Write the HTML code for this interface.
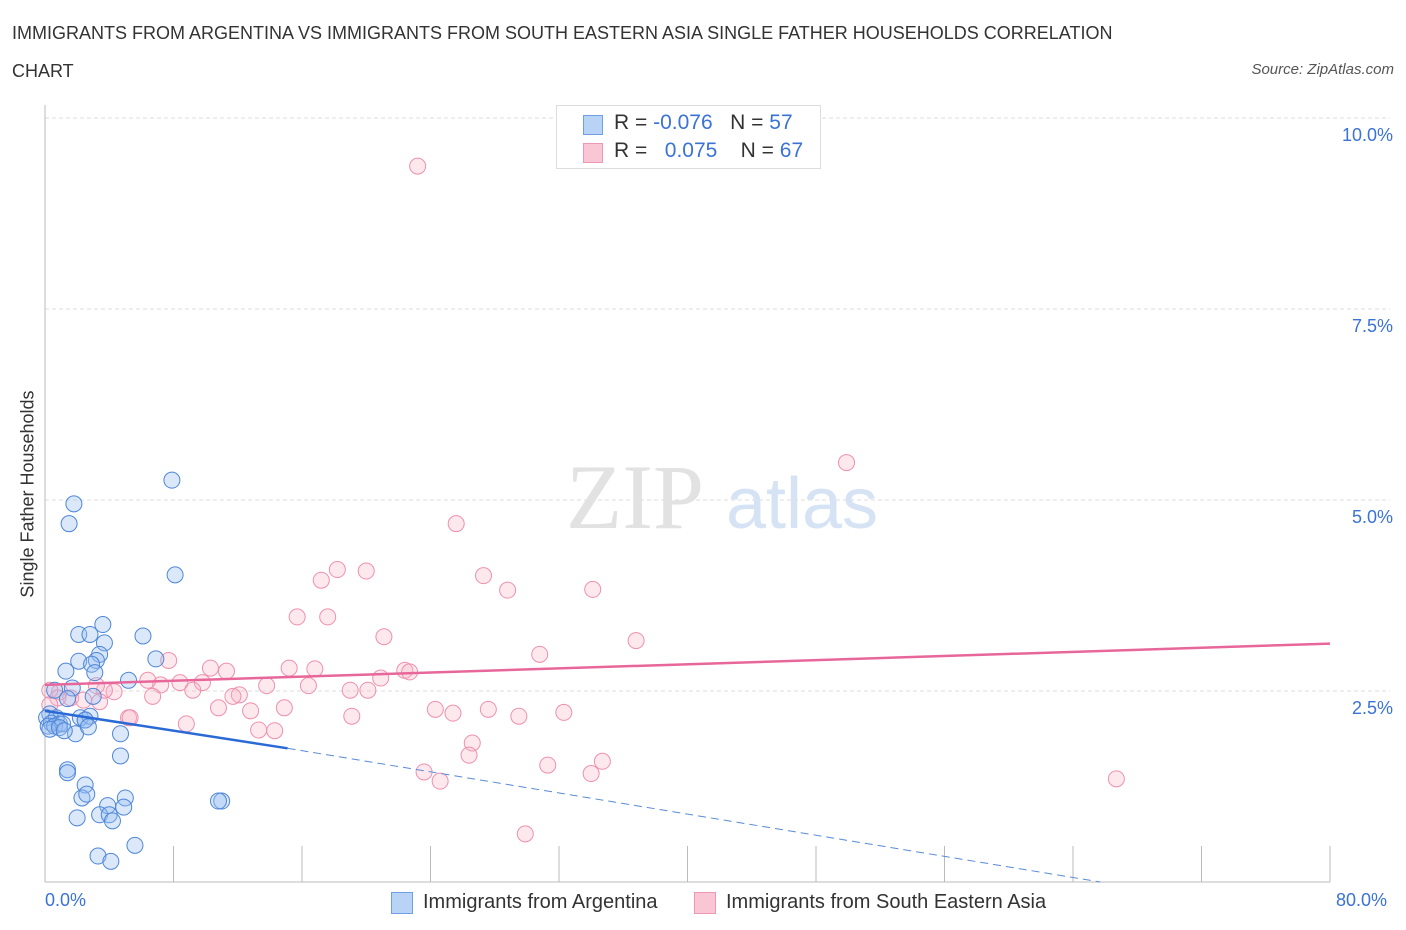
<!DOCTYPE html>
<html><head><meta charset="utf-8"><style>
body{margin:0;background:#fff;font-family:"Liberation Sans",sans-serif;}
#wrap{position:relative;width:1406px;height:930px;overflow:hidden;}
.t{position:absolute;white-space:nowrap;}
</style></head><body>
<div id="wrap">
<div class="t" style="left:12px;top:14px;font-size:18px;color:#333;line-height:38px;">IMMIGRANTS FROM ARGENTINA VS IMMIGRANTS FROM SOUTH EASTERN ASIA SINGLE FATHER HOUSEHOLDS CORRELATION<br>CHART</div>
<div class="t" style="right:12px;top:61px;font-size:15px;color:#555;font-style:italic;">Source: ZipAtlas.com</div>
<svg id="svg" width="1406" height="930" style="position:absolute;left:0;top:0"></svg>
</div>
<script>
const yTicks=[2.5,5.0,7.5,10.0];
const yTickLabels=["2.5%","5.0%","7.5%","10.0%"];
const blueX=[7.9,1.8,1.5,8.1,2.1,2.8,3.6,6.1,3.7,3.4,2.1,3.2,2.9,6.9,1.3,3.1,5.2,1.7,0.6,3.0,1.4,0.3,0.1,0.7,0.4,0.9,0.2,0.6,1.1,2.5,2.2,2.8,2.5,1.9,2.7,0.3,4.7,0.9,4.7,1.4,1.4,2.5,2.3,2.6,11.0,10.8,5.0,4.9,3.9,3.4,4.0,4.2,2.0,5.6,3.3,4.1,1.2];
const blueY=[5.26,4.95,4.69,4.02,3.24,3.24,3.37,3.22,3.13,2.98,2.89,2.90,2.85,2.92,2.76,2.74,2.64,2.54,2.51,2.43,2.40,2.20,2.15,2.15,2.08,2.07,2.04,2.04,2.07,2.12,2.15,2.17,2.12,1.94,2.03,2.00,1.94,2.02,1.65,1.47,1.43,1.27,1.10,1.15,1.06,1.06,1.10,0.98,1.00,0.88,0.88,0.80,0.84,0.48,0.34,0.27,1.98];
const pinkX=[23.2,49.9,25.6,18.2,17.2,20.0,27.3,28.8,34.1,15.7,17.6,21.1,36.8,30.8,7.7,10.3,11.3,15.2,16.8,22.4,22.7,20.9,8.4,7.2,6.4,9.8,13.8,16.4,19.0,20.1,12.1,11.7,9.2,6.7,4.3,3.7,3.2,0.9,0.3,1.6,2.4,0.8,5.2,10.8,14.9,24.3,27.6,19.1,25.4,32.3,29.5,12.8,8.8,13.3,14.3,5.3,26.6,26.4,34.7,31.3,23.6,34.0,24.6,66.7,29.9,0.3,3.4];
const pinkY=[9.37,5.49,4.69,4.09,3.95,4.07,4.01,3.82,3.83,3.47,3.47,3.21,3.16,2.98,2.90,2.80,2.76,2.80,2.79,2.77,2.75,2.67,2.61,2.58,2.64,2.61,2.57,2.57,2.51,2.51,2.45,2.43,2.51,2.43,2.49,2.51,2.57,2.49,2.51,2.41,2.38,2.41,2.15,2.28,2.28,2.26,2.26,2.17,2.21,2.22,2.17,2.24,2.07,1.99,1.98,2.15,1.82,1.66,1.58,1.53,1.44,1.42,1.32,1.35,0.63,2.32,2.36];
const pinkTrend=[2.58,3.12];
const blueTrend=[2.24,1.75,0.0];
const blueTrendEndX=[15.1,65.7];

const X0=45,X1=1330,Y0=882;
const xs=v=>X0+(v/80)*(X1-X0);
const ys=v=>Y0-v*76.4;
const svg=document.getElementById('svg');const NS='http://www.w3.org/2000/svg';
function mk(t,a,name,p){const e=document.createElementNS(NS,t);for(const k in a)e.setAttribute(k,a[k]);


(p||svg).appendChild(e);return e;}
yTicks.forEach((v,i)=>{mk('line',{x1:X0,x2:1390,y1:ys(v),y2:ys(v),stroke:'#ddd','stroke-dasharray':'4,3'},'grid-line');
const t=mk('text',{x:1393,y:ys(v)+23,'text-anchor':'end','font-size':18,fill:'#3a72d6','font-family':'Liberation Sans'},'y-tick-label');t.textContent=yTickLabels[i];});
mk('line',{x1:X0,x2:X0,y1:105,y2:Y0,stroke:'#bbb'},'y-axis');
mk('line',{x1:X0,x2:X1,y1:Y0,y2:Y0,stroke:'#bbb'},'x-axis');
for(let i=1;i<=10;i++){mk('line',{x1:xs(i*8),x2:xs(i*8),y1:846,y2:Y0,stroke:'#bbb'},'x-tick');}
let w=mk('text',{x:635,y:528,'text-anchor':'middle','font-size':92,fill:'#e2e2e2','font-family':'Liberation Serif'},'watermark-zip');w.textContent='ZIP';
w=mk('text',{x:802,y:528,'text-anchor':'middle','font-size':72,fill:'#d6e3f5','font-family':'Liberation Sans'},'watermark-atlas');w.textContent='atlas';
pinkX.forEach((x,i)=>mk('circle',{cx:xs(x),cy:ys(pinkY[i]),r:8,fill:'rgba(248,180,200,0.3)',stroke:'#ef90ad','stroke-width':1},'pink-point'));
blueX.forEach((x,i)=>mk('circle',{cx:xs(x),cy:ys(blueY[i]),r:8,fill:'rgba(150,190,240,0.35)',stroke:'#4f86d8','stroke-width':1},'blue-point'));
mk('line',{x1:xs(0),y1:ys(pinkTrend[0]),x2:xs(80),y2:ys(pinkTrend[1]),stroke:'#e8679a','stroke-width':2.5},'pink-trend-line');
mk('line',{x1:xs(0),y1:ys(blueTrend[0]),x2:xs(blueTrendEndX[0]),y2:ys(blueTrend[1]),stroke:'#2a6ad6','stroke-width':2.5},'blue-trend-line');
mk('line',{x1:xs(blueTrendEndX[0]),y1:ys(blueTrend[1]),x2:xs(blueTrendEndX[1]),y2:ys(blueTrend[2]),stroke:'#5a8ad8','stroke-width':1,'stroke-dasharray':'8,5'},'blue-trend-extension');
</script>
<div class="t" style="left:28px;top:494px;font-size:18px;color:#333;transform:translate(-50%,-50%) rotate(-90deg);">Single Father Households</div>
<div class="t" style="left:45px;top:890px;font-size:18px;color:#3a72d6;">0.0%</div>
<div class="t" style="left:1336px;top:890px;font-size:18px;color:#3a72d6;">80.0%</div>
<div style="position:absolute;left:556px;top:105px;width:263px;height:62px;border:1px solid #ddd;background:#fff;font-size:21px;color:#333;">
<div style="position:absolute;left:26px;top:9px;width:18px;height:18px;background:#b8d3f6;border:1px solid #6fa0e6;"></div>
<div class="t" style="left:57px;top:5px;">R = <span style="color:#3a72d6">-0.076</span>&nbsp;&nbsp;&nbsp;N = <span style="color:#3a72d6">57</span></div>
<div style="position:absolute;left:26px;top:37px;width:18px;height:18px;background:#f9c6d5;border:1px solid #ec98b2;"></div>
<div class="t" style="left:57px;top:33px;">R = &nbsp;&nbsp;<span style="color:#3a72d6">0.075</span>&nbsp;&nbsp;&nbsp;&nbsp;N = <span style="color:#3a72d6">67</span></div>
</div>
<div style="position:absolute;left:391px;top:891px;font-size:20px;color:#333;">
<div style="position:absolute;left:0;top:1px;width:20px;height:20px;background:#b8d3f6;border:1px solid #6fa0e6;"></div>
<div class="t" style="left:32px;top:0;">Immigrants from Argentina</div></div>
<div style="position:absolute;left:694px;top:891px;font-size:20px;color:#333;">
<div style="position:absolute;left:0;top:1px;width:20px;height:20px;background:#f9c6d5;border:1px solid #ec98b2;"></div>
<div class="t" style="left:32px;top:0;">Immigrants from South Eastern Asia</div></div>
</body></html>
